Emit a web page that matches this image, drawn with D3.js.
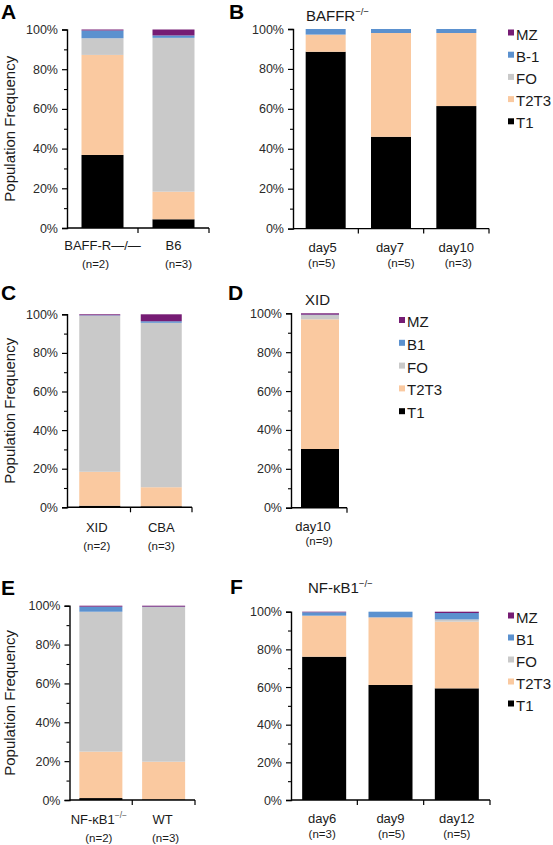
<!DOCTYPE html>
<html><head><meta charset="utf-8">
<script src="https://cdn.jsdelivr.net/npm/d3@7"></script>
<style>
body{margin:0;background:#fff}
svg{display:block;font-family:"Liberation Sans",Arial,Helvetica,sans-serif}
</style>
</head><body>
<svg id="c" width="553" height="845"></svg>
<script>
// ---------- data ----------
const seriesKeys = ["T1","T2T3","FO","B1","MZ"];
const seriesColors = ["#000000","#fac9a0","#c9c9c9","#5b91cf","#761c74"];
const legendLabelsB = ["MZ","B-1","FO","T2T3","T1"];
const legendLabelsDF = ["MZ","B1","FO","T2T3","T1"];
const yTickValues = [0,20,40,60,80,100];
const yMinorValues = [10,30,50,70,90];

// Panel A
const catsA = ["BAFF-R\u2014/\u2014","B6"];
const nA = ["(n=2)","(n=3)"];
const t1A = [36.8,4.4], t2t3A = [50.4,13.9], foA = [8.4,77.5], b1A = [3.9,1.2], mzA = [0.5,3.0];
// Panel B (BAFFR-/-)
const catsB = ["day5","day7","day10"];
const nB = ["(n=5)","(n=5)","(n=3)"];
const t1B = [88.6,46.0,61.4], t2t3B = [8.6,52.0,36.6], foB = [0,0,0], b1B = [2.8,2.0,2.0], mzB = [0,0,0];
// Panel C
const catsC = ["XID","CBA"];
const nC = ["(n=2)","(n=3)"];
const t1C = [0.8,0.5], t2t3C = [17.6,9.9], foC = [80.9,85.2], b1C = [0.2,0.8], mzC = [0.5,3.6];
// Panel D (XID)
const catsD = ["day10"];
const nD = ["(n=9)"];
const t1D = [30.2], t2t3D = [66.7], foD = [2.2], b1D = [0.2], mzD = [0.7];
// Panel E
const catsE = ["NF-\u03BAB1","WT"];
const supE = ["\u2212/\u2212",""];
const nE = ["(n=2)","(n=3)"];
const t1E = [1.0,0.3], t2t3E = [23.9,19.4], foE = [72.0,79.6], b1E = [2.6,0.2], mzE = [0.5,0.5];
// Panel F (NF-kB1-/-)
const catsF = ["day6","day9","day12"];
const nF = ["(n=3)","(n=5)","(n=5)"];
const t1F = [76.1,61.1,59.3], t2t3F = [21.8,35.9,35.4], foF = [0,0,1.2], b1F = [1.8,3.0,3.4], mzF = [0.3,0,0.7];

// ---------- layout ----------
const svg = d3.select("#c");
const FONT_TICK = 12.5;

function rows(cats, t1, t2, fo, b1, mz){
  return cats.map((c,i)=>({cat:c, i:i, T1:t1[i], T2T3:t2[i], FO:fo[i], B1:b1[i], MZ:mz[i]}));
}

function panel(p){
  const data = rows(p.cats, p.t1, p.t2, p.fo, p.b1, p.mz);
  const x = d3.scaleBand().domain(d3.range(p.cats.length)).range(p.band || [p.x0, p.x1]);
  const y = d3.scaleLinear().domain([0,100]).range([p.bottom, p.top]);
  const stack = d3.stack().keys(seriesKeys)(data);
  const g = svg.append("g");

  // bars
  stack.forEach((layer, li)=>{
    g.append("g").attr("fill", seriesColors[li])
      .selectAll("rect").data(layer).join("rect")
      .attr("x", d => x(d.data.i) + x.bandwidth()/2 - p.barW/2)
      .attr("width", p.barW)
      .attr("y", d => y(d[1]))
      .attr("height", d => Math.max(0, y(d[0]) - y(d[1])));
  });

  // y axis
  const ya = g.append("g").attr("transform", `translate(${p.x0},0)`)
    .call(d3.axisLeft(y).tickValues(yTickValues).tickFormat(d=>d+"%").tickSize(5).tickPadding(4));
  ya.select(".domain").attr("stroke","#000").attr("stroke-width",1.4);
  ya.selectAll(".tick line").attr("stroke","#000").attr("stroke-width",1.2);
  ya.selectAll(".tick text").attr("font-size",FONT_TICK).attr("fill","#2a2a2a")
    .attr("font-family",'"Liberation Sans",Arial,sans-serif');
  const ym = g.append("g").attr("transform", `translate(${p.x0},0)`)
    .call(d3.axisLeft(y).tickValues(yMinorValues).tickFormat("").tickSize(3));
  ym.select(".domain").remove();
  ym.selectAll(".tick line").attr("stroke","#000").attr("stroke-width",1.1);

  // x axis
  g.append("line").attr("x1",p.x0).attr("x2",p.x1).attr("y1",p.bottom).attr("y2",p.bottom)
    .attr("stroke","#000").attr("stroke-width",1.4);
  const bounds = d3.range(1, p.cats.length).map(i => x(i)).concat([p.x1]);
  g.selectAll(".xt").data(bounds).join("line").attr("class","xt")
    .attr("x1",d=>d).attr("x2",d=>d).attr("y1",p.bottom).attr("y2",p.bottom+5)
    .attr("stroke","#000").attr("stroke-width",1.2);

  // category labels
  p.cats.forEach((c,i)=>{
    const cx = x(i) + x.bandwidth()/2;
    const t = g.append("text").attr("x", cx + (p.ldx ? p.ldx[i] : 0)).attr("y", p.labelY)
      .attr("text-anchor","middle").attr("font-size",13).attr("fill","#1a1a1a").text(c);
    if (p.sup && p.sup[i]) {
      t.append("tspan").attr("font-size",8.5).attr("dy",-6).attr("fill","#555").text(p.sup[i]);
    }
    g.append("text").attr("x", cx + (p.ndx ? p.ndx[i] : 0)).attr("y", p.nY)
      .attr("text-anchor","middle").attr("font-size",11.5).attr("fill","#1a1a1a").text(p.ns[i]);
  });

  // y title
  if (p.yTitle) {
    g.append("text").attr("transform","rotate(-90)")
      .attr("x", -(p.top + p.bottom)/2).attr("y", 15)
      .attr("text-anchor","middle").attr("font-size",15).attr("fill","#1a1a1a")
      .text("Population Frequency");
  }
  // panel letter
  svg.append("text").attr("x",p.letterX).attr("y",p.letterY).attr("font-size",21)
    .attr("font-weight","bold").attr("fill","#000").text(p.letter);
  // title
  if (p.title) {
    const tt = svg.append("text").attr("x",p.titleX).attr("y",p.titleY).attr("font-size",15)
      .attr("fill","#1a1a1a").text(p.title);
    if (p.titleSup) tt.append("tspan").attr("font-size",9.5).attr("dy",-6).text(p.titleSup);
  }
  // legend
  if (p.legend) {
    p.legend.labels.forEach((lab,k)=>{
      const b = p.legend.y0 + k*p.legend.dy;
      const ci = seriesKeys.length - 1 - k;
      svg.append("rect").attr("x",p.legend.x).attr("y",b-10).attr("width",6).attr("height",6)
        .attr("fill",seriesColors[ci]);
      svg.append("text").attr("x",p.legend.x+8).attr("y",b).attr("font-size",15)
        .attr("fill","#1a1a1a").text(lab);
    });
  }
}

panel({cats:catsA, ns:nA, t1:t1A, t2:t2t3A, fo:foA, b1:b1A, mz:mzA,
  x0:67, x1:209, top:29.5, bottom:228, barW:42, labelY:250, nY:268, ldx:[0,0], ndx:[-7,5],
  yTitle:true, letter:"A", letterX:1, letterY:19});
panel({cats:catsB, ns:nB, t1:t1B, t2:t2t3B, fo:foB, b1:b1B, mz:mzB,
  x0:293, x1:489, top:29, bottom:228.6, barW:40, labelY:252, nY:267, ldx:[-3,-1,0], ndx:[-4,10,2],
  letter:"B", letterX:229, letterY:19, title:"BAFFR", titleSup:"\u2212/\u2212", titleX:306, titleY:21,
  legend:{labels:legendLabelsB, x:508, y0:39.5, dy:22.2}});
panel({cats:catsC, ns:nC, t1:t1C, t2:t2t3C, fo:foC, b1:b1C, mz:mzC,
  x0:67, x1:192, band:[69,192], top:314.3, bottom:507.3, barW:41, labelY:532, nY:550, ldx:[-3,0], ndx:[-3,0],
  yTitle:true, letter:"C", letterX:1, letterY:300});
panel({cats:catsD, ns:nD, t1:t1D, t2:t2t3D, fo:foD, b1:b1D, mz:mzD,
  x0:291, x1:347, band:[291,349], top:313.3, bottom:507.7, barW:38, labelY:531, nY:545, ldx:[-7], ndx:[-1],
  letter:"D", letterX:228, letterY:300, title:"XID", titleX:305, titleY:305,
  legend:{labels:legendLabelsDF, x:399, y0:327, dy:22.8}});
panel({cats:catsE, ns:nE, sup:supE, t1:t1E, t2:t2t3E, fo:foE, b1:b1E, mz:mzE,
  x0:69.5, x1:195, top:605.7, bottom:800, barW:43, labelY:824, nY:842, ldx:[-2,-1], ndx:[-2,2],
  yTitle:true, letter:"E", letterX:1, letterY:595});
panel({cats:catsF, ns:nF, t1:t1F, t2:t2t3F, fo:foF, b1:b1F, mz:mzF,
  x0:291, x1:490, top:611.7, bottom:800, barW:44, labelY:823, nY:838, ldx:[-2,0,0], ndx:[-2,1,0],
  letter:"F", letterX:230, letterY:594, title:"NF-\u03BAB1", titleSup:"\u2212/\u2212", titleX:308, titleY:593,
  legend:{labels:legendLabelsDF, x:508, y0:622.5, dy:22}});
</script>
</body></html>
